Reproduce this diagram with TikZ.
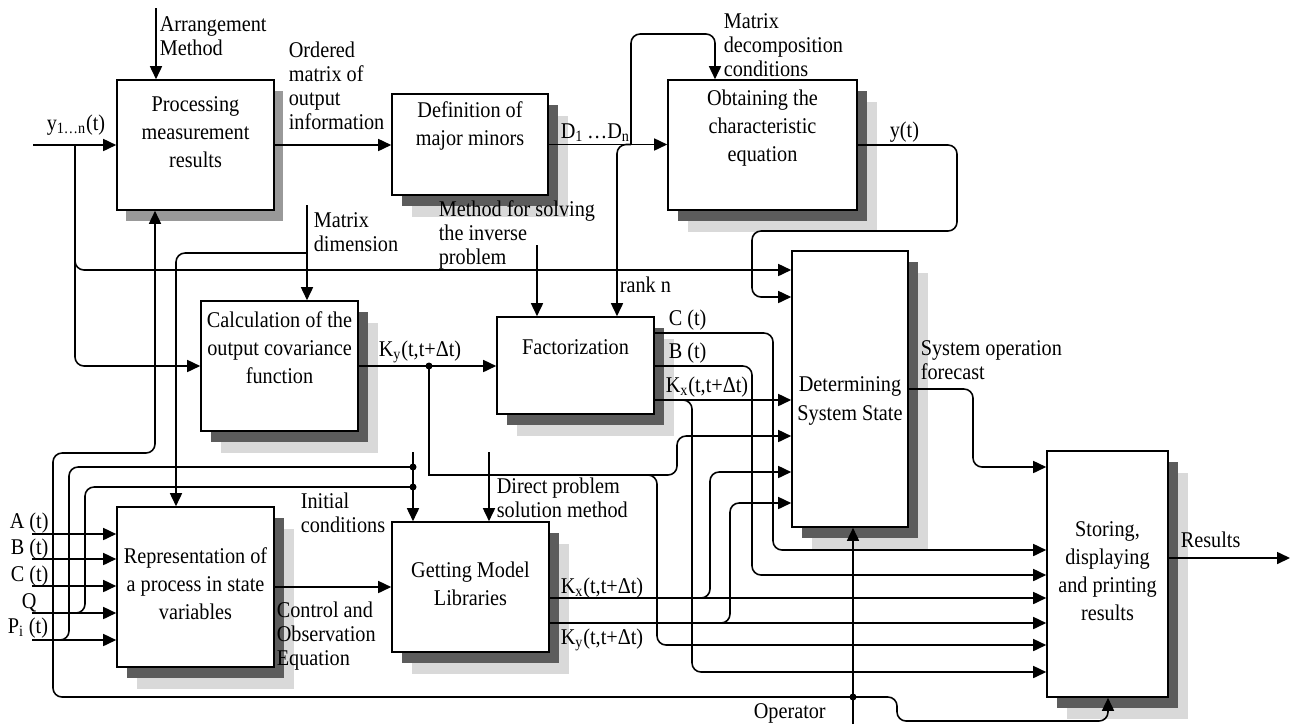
\documentclass[tikz,border=0pt]{standalone}
\usepackage{fontspec}
\setmainfont{Liberation Serif}[FakeStretch=0.9]
\usetikzlibrary{arrows.meta,shadows,fit}

\definecolor{shdark}{gray}{0.36}
\definecolor{shlight}{gray}{0.85}
\definecolor{shmid}{gray}{0.6}

\newcommand{\boxfont}{\fontsize{12.8}{16}\selectfont}
\newcommand{\lblfont}{\fontsize{12.8}{13.6}\selectfont}

\tikzset{
  box/.style={draw, fill=white, inner sep=0pt},
  dblshadow/.style={general shadow={draw=none, fill=shlight, shadow xshift=0.4cm, shadow yshift=-0.44cm},
                    general shadow={draw=none, fill=shdark, shadow xshift=0.2cm, shadow yshift=-0.22cm}},
  sglshadow/.style={general shadow={draw=none, fill=shmid, shadow xshift=0.18cm, shadow yshift=-0.22cm}},
  btxt/.style={align=center, font=\boxfont, inner sep=0pt},
  lbl/.style={align=left, font=\lblfont, inner sep=0pt, anchor=west},
  arr/.style={-{Triangle[length=0.26cm,width=0.24cm]}},
  rc/.style={rounded corners=0.18cm},
  jdot/.style={circle, fill, inner sep=0pt, minimum size=0.14cm},
}

\begin{document}
\begin{tikzpicture}[x=0.02cm, y=-0.02cm, line width=0.9pt]
    \useasboundingbox (0,0) rectangle (1293,724);

    % -- Bloecke --
    \node[box, sglshadow, fit={(117,80) (274,210)}] (proc) {};
    \node[box, dblshadow, fit={(392,94) (548,195)}] (minors) {};
    \node[box, dblshadow, fit={(668,80) (857,210)}] (chareq) {};
    \node[box, dblshadow, fit={(201,301) (358,431)}] (covf) {};
    \node[box, dblshadow, fit={(497,317) (654,414)}] (fact) {};
    \node[box, dblshadow, fit={(792,251) (908,527)}] (state) {};
    \node[box, dblshadow, fit={(1047,451) (1168,697)}] (store) {};
    \node[box, dblshadow, fit={(117,507) (274,667)}] (repr) {};
    \node[box, dblshadow, fit={(392,522) (549,652)}] (lib) {};

    % -- Blocktexte --
    \node[btxt] (proct) at (195.5,132) {Processing\\measurement\\results};
    \node[btxt] (minorst) at (470,126) {Definition of\\major minors};
    \node[btxt] (chareqt) at (762.5,128) {Obtaining the\\characteristic\\equation};
    \node[btxt] (covft) at (279.5,348) {Calculation of the\\output covariance\\function};
    \node[btxt] (factt) at (575.5,347) {Factorization};
    \node[btxt] (statet) at (850,401) {Determining\\System State};
    \node[btxt] (storet) at (1107.5,571) {Storing,\\displaying\\and printing\\results};
    \node[btxt] (reprt) at (195.5,584) {Representation of\\a process in state\\variables};
    \node[btxt] (libt) at (470.5,584) {Getting Model\\Libraries};

    % -- Messwerte y(t) --
    \coordinate (yin) at (33,145);
    \coordinate (yb) at (75,145);
    \draw[arr] (yin) -- (proc.west);
    \draw[arr, rc] (yb) |- (state.west |- 0,270);
    \draw[arr, rc] (yb) |- (covf.west);

    \coordinate (arrm) at (156,8);
    \draw[arr] (arrm) -- (arrm |- proc.north);

    \draw[arr] (proc.east) -- (proc.east -| minors.west);
    \draw[arr] (minors.east) -- (minors.east -| chareq.west);

    % -- Minoren: Rueckfuehrung und Rang --
    \coordinate (dn) at (631,144.5);
    \coordinate (dcond) at (715,34);
    \coordinate (rk) at (617,144.5);
    \draw[arr, rc] (dn) |- (dcond) -- (dcond |- chareq.north);
    \draw[arr, rc] (dn) -| (rk |- fact.north);

    % -- y(t) zum Systemzustand --
    \draw[arr, rc] (chareq.east) -- (957,145) |- (752,231) |- (state.west |- 0,297);

    % -- Matrixdimension --
    \coordinate (mdim) at (307,205);
    \coordinate (mdb) at (307,253);
    \draw[arr] (mdim) -- (mdim |- covf.north);
    \draw[arr, rc] (mdb) -| (176,0 |- repr.north);

    % -- Kovarianzfunktion --
    \node[jdot] (kyd) at (429,366) {};
    \draw[arr] (covf.east) -- (covf.east -| fact.west);
    \draw[arr] (kyd.center) |- (662,475) [rc] -- (677,475) |- (state.west |- 0,436);
    \draw[arr, rc] (647,475) -- (657,475) |- (store.west |- 0,645);

    \coordinate (minv) at (537,245);
    \draw[arr] (minv) -- (minv |- fact.north);

    % -- Faktorisierung: Ausgaenge --
    \draw[arr, rc] (fact.east |- 0,333) -| (773,550) -- (store.west |- 0,550);
    \draw[arr, rc] (fact.east |- 0,366) -| (752,575) -- (store.west |- 0,575);
    \draw[arr] (fact.east |- 0,400) -- (state.west |- 0,400);
    \draw[arr, rc] (680,400) -| (692,672) -- (store.west |- 0,672);

    % -- Modellbibliotheken: Ausgaenge --
    \draw[arr] (lib.east |- 0,598) -- (store.west |- 0,598);
    \draw[arr, rc] (698,598) -| (710,472) -- (state.west |- 0,472);
    \draw[arr] (lib.east |- 0,623) -- (store.west |- 0,623);
    \draw[arr, rc] (718,623) -| (730,503) -- (state.west |- 0,503);

    % -- Prognose und Ergebnis --
    \draw[arr, rc] (state.east) -| (973,467) -- (store.west |- 0,467);
    \coordinate (res) at (1290,558);
    \draw[arr] (store.east |- res) -- (res);

    \draw[arr] (repr.east) -- (repr.east -| lib.west);

    % -- Eingaenge A, B, C, Q, P --
    \foreach \yy/\nm in {534/A, 559/B, 586/C, 613/Q, 640/P}{
        \coordinate (in\nm) at (32,\yy);
        \draw[arr] (in\nm) -- (repr.west |- in\nm);
    }
    \node[jdot] (icA) at (413,467) {};
    \node[jdot] (icB) at (413,487) {};
    \draw[rc] (55,640) -| (69,467) -- (icA.center);
    \draw[rc] (70,613) -| (85,487) -- (icB.center);
    \coordinate (ini) at (413,452);
    \draw[arr] (ini) -- (ini |- lib.north);

    \coordinate (dpm) at (489,452);
    \draw[arr] (dpm) -- (dpm |- lib.north);

    % -- Bediener --
    \coordinate (oper) at (853,724);
    \node[jdot] (opd) at (853,697) {};
    \draw[arr] (oper) -- (oper |- state.south);
    \draw[arr, rc] (opd.center) -| (53,453) -| (155,0 |- proc.south);
    \draw[arr, rc] (opd.center) -| (897,721) -| (1108,0 |- store.south);

    % -- Beschriftungen --
    \node[lbl] (yinl) at (46,125) {y\textsubscript{1…n}(t)};
    \node[lbl] (arrl) at (159,36) {Arrangement\\Method};
    \node[lbl] (ordl) at (288,86) {Ordered\\matrix of\\output\\information};
    \node[lbl] (dl) at (560,133) {D\textsubscript{1}\,…D\textsubscript{n}};
    \node[lbl] (condl) at (723,45) {Matrix\\decomposition\\conditions};
    \node[lbl] (ytl) at (889,132) {y(t)};
    \node[lbl] (mdiml) at (313,232) {Matrix\\dimension};
    \node[lbl] (minvl) at (438,235) {Method for solving\\the inverse\\problem};
    \node[lbl] (rankl) at (619,285) {rank n};
    \node[lbl] (kycl) at (378,352) {K\textsubscript{y}(t,t+Δt)};
    \node[lbl] (cl) at (668,320) {C (t)};
    \node[lbl] (bl) at (668,353) {B (t)};
    \node[lbl] (kxfl) at (665,387) {K\textsubscript{x}(t,t+Δt)};
    \node[lbl] (fcl) at (920,360) {System operation\\forecast};
    \node[lbl] (resl) at (1180,540) {Results};
    \node[lbl] (inil) at (300,513) {Initial\\conditions};
    \node[lbl] (dpml) at (496,498) {Direct problem\\solution method};
    \node[lbl] (coel) at (276,636) {Control and\\Observation\\Equation};
    \node[lbl] (kxml) at (560,588) {K\textsubscript{x}(t,t+Δt)};
    \node[lbl] (kyml) at (560,640) {K\textsubscript{y}(t,t+Δt)};
    \node[lbl] (operl) at (753,713) {Operator};
    \node[lbl] (al) at (9,523) {A (t)};
    \node[lbl] (bl2) at (10,549) {B (t)};
    \node[lbl] (cl2) at (10,576) {C (t)};
    \node[lbl] (ql) at (21,603) {Q};
    \node[lbl] (pl) at (7,628) {P\textsubscript{i} (t)};
\end{tikzpicture}
\end{document}
